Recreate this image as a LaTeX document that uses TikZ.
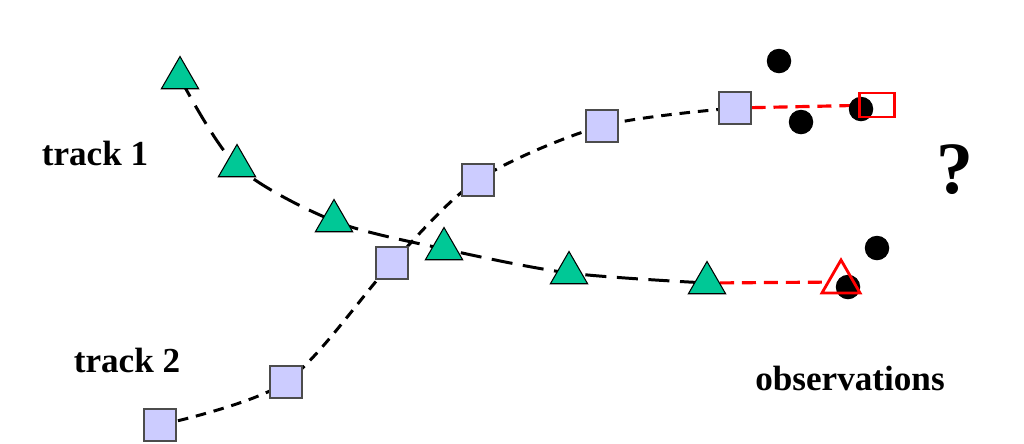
\documentclass[tikz,border=0pt]{standalone}
\usepackage{fontspec}
\setmainfont{Liberation Serif}
\usetikzlibrary{shapes.geometric, backgrounds}
\definecolor{trigreen}{HTML}{00C896}
\definecolor{sqblue}{HTML}{CCCCFF}

\begin{document}
\begin{tikzpicture}[
    x=0.2mm, y=-0.2mm,
    every node/.style={font=\bfseries\fontsize{20}{24}\selectfont},
    tri/.style={
        regular polygon, regular polygon sides=3,
        draw=black, line width=0.6pt,
        fill=trigreen,
        minimum size=8.6mm,
        inner sep=0pt,
    },
    sq/.style={
        rectangle,
        draw=black!70, line width=0.6pt,
        fill=sqblue,
        minimum size=6.4mm,
        inner sep=0pt,
    },
    obs/.style={circle, fill=black, minimum size=4.9mm, inner sep=0pt},
    trackone/.style={line width=1.7pt, dash pattern=on 12pt off 6pt},
    tracktwo/.style={line width=1.7pt, dash pattern=on 6pt off 4.5pt},
    predict/.style={red, line width=1.8pt, dash pattern=on 8pt off 4.5pt},
]
\useasboundingbox (0,0) rectangle (1024,443);

% track 1 (triangles)
\node[tri] (t1) at (180,78) {};
\node[tri] (t2) at (237,166) {};
\node[tri] (t3) at (334,221) {};
\node[tri] (t4) at (444,249) {};
\node[tri] (t5) at (569,273) {};
\node[tri] (t6) at (707,283) {};

% track 2 (squares)
\node[sq] (s1) at (160,425) {};
\node[sq] (s2) at (286,382) {};
\node[sq] (s3) at (392,263) {};
\node[sq] (s4) at (478,180) {};
\node[sq] (s5) at (602,126) {};
\node[sq] (s6) at (735,108) {};

% observations
\node[obs] (o1) at (779,61) {};
\node[obs] (o2) at (801,122) {};
\node[obs] (o3) at (861,109) {};
\node[obs] (o4) at (877,248) {};
\node[obs] (o5) at (848,287) {};

% predicted positions
\node[tri, fill=none, draw=red, line width=1.6pt, minimum size=8.8mm] (p1) at (841,282) {};
\node[rectangle, draw=red, line width=1.6pt, minimum width=7mm, minimum height=4.8mm,
      inner sep=0pt] (p2) at (877,105) {};

% labels
\node (lab1) at (95,153) {track 1};
\node (lab2) at (127,360) {track 2};
\node (labobs) at (850,378) {observations};
\node[font=\bfseries\fontsize{42}{46}\selectfont] (ask) at (955,170) {?};

\begin{pgfonlayer}{background}
\draw[trackone] plot[smooth] coordinates {(t1) (t2) (t3) (t4) (t5) (t6)};
\draw[tracktwo] plot[smooth] coordinates {(s1) (s2) (s3) (s4) (s5) (s6)};
\draw[predict] (t6) -- (p1);
\draw[predict] (s6) -- (p2);
\end{pgfonlayer}

\end{tikzpicture}
\end{document}
